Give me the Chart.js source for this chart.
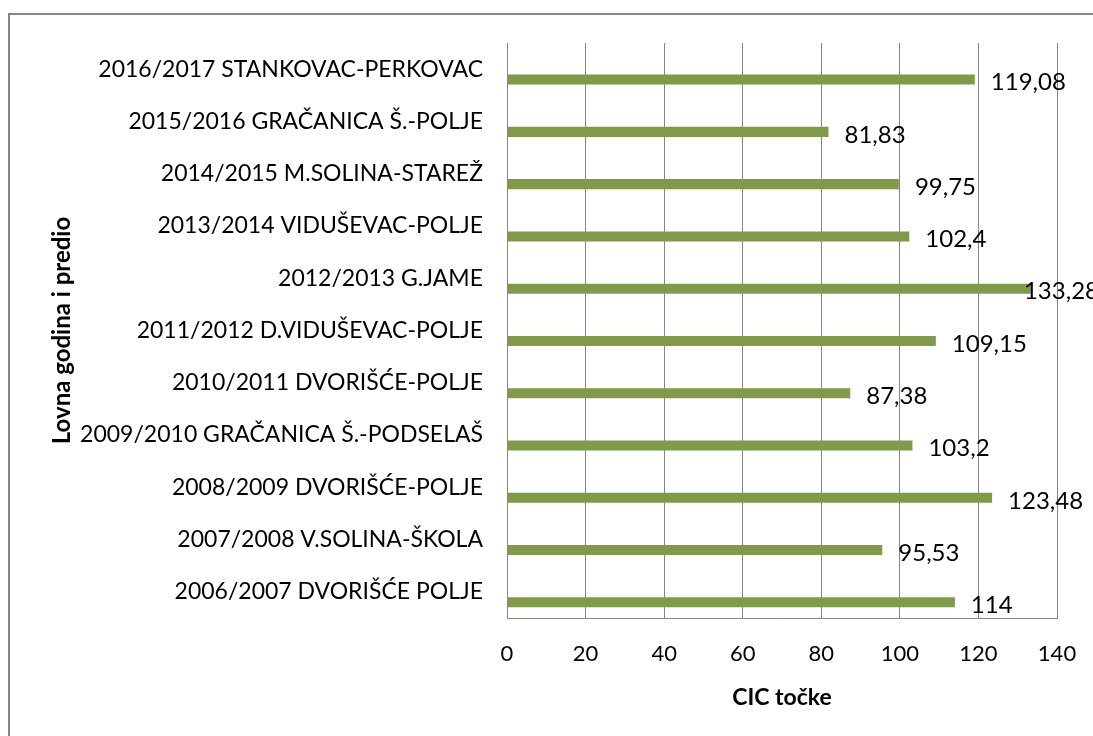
<!DOCTYPE html>
<html>
<head>
<meta charset="utf-8">
<script src="https://cdn.jsdelivr.net/npm/chart.js@4"></script>
<style>
  html, body { margin: 0; padding: 0; background: #fff; overflow: hidden; }
  #okvir { position: absolute; left: 8px; top: 13px; width: 1200px; height: 800px; border: 2px solid #868686; box-sizing: border-box; }
  #graf { position: absolute; left: 0; top: 0; }
</style>
</head>
<body>
<div id="okvir"></div>
<canvas id="graf" width="1093" height="736"></canvas>
<script>
// podaci, od vrha prema dnu
const predjeli = [
    '2016/2017 STANKOVAC-PERKOVAC',
    '2015/2016 GRAČANICA Š.-POLJE',
    '2014/2015 M.SOLINA-STAREŽ',
    '2013/2014 VIDUŠEVAC-POLJE',
    '2012/2013 G.JAME',
    '2011/2012 D.VIDUŠEVAC-POLJE',
    '2010/2011 DVORIŠĆE-POLJE',
    '2009/2010 GRAČANICA Š.-PODSELAŠ',
    '2008/2009 DVORIŠĆE-POLJE',
    '2007/2008 V.SOLINA-ŠKOLA',
    '2006/2007 DVORIŠĆE POLJE'
];
const cicTocke = [119.08, 81.83, 99.75, 102.4, 133.28, 109.15, 87.38, 103.2, 123.48, 95.53, 114];
const prazno = [null, null, null, null, null, null, null, null, null, null, null];
const xTicke = [0, 20, 40, 60, 80, 100, 120, 140];

const FONT = 'Lato';

// vrijednosti uz stupce (kao u Excelu, natpis se pomakne ulijevo ako ne stane)
const oznake = {
    id: 'oznake',
    afterDatasetsDraw(chart) {
        const ctx = chart.ctx;
        const meta = chart.getDatasetMeta(1);
        const desniRub = chart.width + 6;
        ctx.save();
        ctx.font = '24px ' + FONT;
        ctx.fillStyle = '#000';
        ctx.textAlign = 'left';
        ctx.textBaseline = 'middle';
        meta.data.forEach((bar, i) => {
            const txt = String(cicTocke[i]).replace('.', ',');
            const w = ctx.measureText(txt).width;
            const x = Math.min(bar.x + 16, desniRub - w);
            ctx.fillText(txt, x, bar.y + 3);
        });
        ctx.restore();
    }
};

const ctx = document.getElementById('graf').getContext('2d');
new Chart(ctx, {
    type: 'bar',
    data: {
        labels: predjeli,
        datasets: [
            {
                label: '',
                data: prazno,
                backgroundColor: 'rgba(0,0,0,0)'
            },
            {
                label: 'CIC točke',
                data: cicTocke,
                backgroundColor: '#7f9b4a',
                borderWidth: 0
            }
        ]
    },
    options: {
        indexAxis: 'y',
        responsive: false,
        animation: false,
        devicePixelRatio: 1,
        categoryPercentage: 0.8,
        barPercentage: 0.48,
        layout: { padding: { left: 48, top: 43, right: 36, bottom: 0 } },
        plugins: {
            legend: { display: false },
            tooltip: { enabled: false }
        },
        scales: {
            x: {
                min: 0,
                max: 140,
                afterBuildTicks(scale) {
                    scale.ticks = xTicke.map(v => ({ value: v }));
                },
                grid: { color: '#868686', drawTicks: false, lineWidth: 1 },
                border: { color: '#868686' },
                ticks: { color: '#000', font: { family: FONT, size: 22 }, padding: 23 },
                title: {
                    display: true,
                    text: 'CIC točke',
                    color: '#000',
                    font: { family: FONT, size: 23, weight: 'bold' },
                    padding: { top: 0, bottom: 25 }
                },
                afterFit(scale) {
                    scale.height = 118;
                    scale.paddingLeft = 0;
                    scale.paddingRight = 0;
                }
            },
            y: {
                grid: { display: false, drawTicks: false },
                border: { display: false },
                ticks: { color: '#000', font: { family: FONT, size: 23 }, padding: 24, autoSkip: false },
                title: {
                    display: true,
                    text: 'Lovna godina i predio',
                    color: '#000',
                    font: { family: FONT, size: 24, weight: 'bold' },
                    padding: 0
                },
                afterFit(scale) {
                    scale.width = 459;
                    scale.paddingTop = 0;
                    scale.paddingBottom = 0;
                }
            }
        }
    },
    plugins: [oznake]
});
</script>
</body>
</html>
